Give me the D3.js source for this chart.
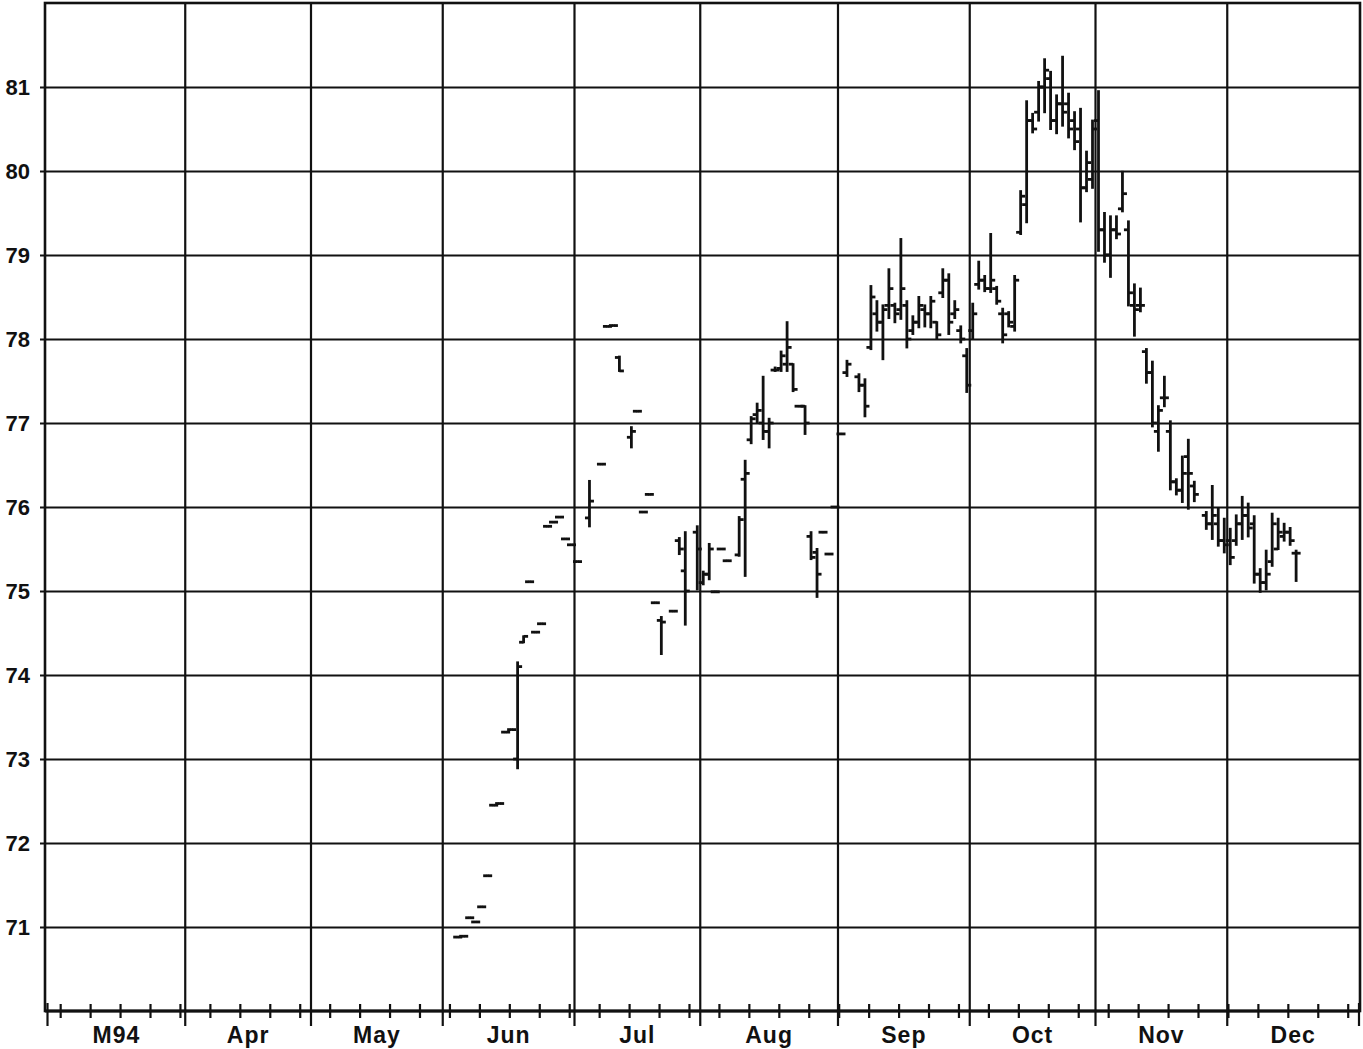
<!DOCTYPE html>
<html><head><meta charset="utf-8">
<script src="https://cdn.jsdelivr.net/npm/d3@7"></script>
<style>
body{margin:0;background:#fff}
svg{display:block}
text{font-family:"Liberation Sans",Arial,sans-serif;font-weight:bold;fill:#111}
</style>
</head><body>
<svg id="c" width="1363" height="1049"></svg>
<script>
// ---- data ----
const monthLabels = ["M94","Apr","May","Jun","Jul","Aug","Sep","Oct","Nov","Dec"];
const yTicks = [71,72,73,74,75,76,77,78,79,80,81];
// trading-day (weekday) index counted from 1994-03-01
const days = [
 68,69,70,71,72,73,74,75,76,77,78,79,80,81,82,83,84,85,86,87,
 88,90,92,93,94,95,97,98,99,100,101,102,104,105,106,108,
 109,110,111,112,113,115,116,117,118,119,120,121,122,123,124,125,126,127,128,129,130,131,
 132,133,135,136,137,138,139,140,141,142,143,144,145,146,147,148,149,150,151,152,153,
 154,155,156,157,158,159,160,161,162,163,164,165,166,167,168,169,170,171,172,173,174,
 175,176,177,178,179,180,181,182,183,184,185,186,187,188,189,190,191,193,194,195,196,
 197,198,199,200,201,202,203,204,205,206,207,208
];
const opens = [
 70.88,70.89,71.11,71.06,71.24,71.61,72.45,72.47,73.32,73.35,73.00,74.39,75.11,74.51,74.61,75.77,75.82,75.88,75.62,75.55,
 75.35,75.87,76.51,78.15,78.16,77.78,76.83,77.14,75.94,76.15,74.86,74.65,74.76,75.60,75.24,75.70,
 75.10,75.20,74.99,75.50,75.36,75.43,76.33,76.80,77.10,77.00,76.90,77.63,77.65,77.70,77.70,77.20,77.20,75.65,75.46,75.70,75.44,76.00,
 76.87,77.60,77.55,77.45,77.90,78.30,78.20,78.40,78.40,78.35,78.40,78.10,78.20,78.35,78.30,78.20,78.55,78.70,78.30,78.10,77.80,
 78.10,78.65,78.70,78.60,78.60,78.30,78.30,78.15,79.27,79.60,80.60,80.70,81.00,81.10,80.60,80.80,80.80,80.60,80.50,79.80,79.90,
 80.60,79.30,79.00,79.30,79.55,79.30,78.40,78.40,77.85,77.60,76.90,77.30,76.90,76.30,76.20,76.60,76.25,75.90,75.80,75.80,75.60,
 75.60,75.60,75.80,75.90,75.80,75.20,75.10,75.35,75.50,75.65,75.70,75.45
];
const highs = [
 70.88,70.89,71.11,71.06,71.24,71.61,72.45,72.47,73.32,73.35,74.15,74.46,75.11,74.51,74.61,75.77,75.82,75.88,75.62,75.55,
 75.35,76.31,76.51,78.15,78.16,77.79,76.95,77.14,75.94,76.15,74.86,74.69,74.76,75.63,75.70,75.77,
 75.23,75.56,74.99,75.50,75.36,75.88,76.55,77.07,77.23,77.55,77.05,77.66,77.85,78.20,77.70,77.20,77.20,75.70,75.50,75.70,75.44,76.00,
 76.87,77.74,77.58,77.52,78.63,78.45,78.40,78.83,78.42,79.19,78.45,78.27,78.50,78.40,78.50,78.20,78.83,78.77,78.45,78.15,77.88,
 78.42,78.92,78.75,79.25,78.62,78.36,78.32,78.75,79.76,80.83,80.68,81.06,81.33,81.18,80.90,81.36,80.92,80.70,80.74,80.23,80.60,
 80.95,79.50,79.46,79.46,79.99,79.40,78.65,78.60,77.88,77.73,77.20,77.55,77.02,76.33,76.60,76.80,76.30,75.94,76.25,75.98,75.86,
 75.74,75.90,76.12,76.04,75.89,75.26,75.48,75.92,75.86,75.80,75.75,75.48
];
const lows = [
 70.88,70.89,71.11,71.06,71.24,71.61,72.45,72.47,73.32,73.35,72.89,74.39,75.11,74.51,74.61,75.77,75.82,75.88,75.62,75.55,
 75.35,75.77,76.51,78.15,78.16,77.62,76.71,77.14,75.94,76.15,74.86,74.25,74.76,75.44,74.60,75.02,
 75.08,75.14,74.99,75.50,75.36,75.42,75.18,76.76,77.00,76.81,76.71,77.62,77.62,77.62,77.38,77.20,76.87,75.38,74.93,75.70,75.44,76.00,
 76.87,77.56,77.38,77.08,77.88,78.10,77.76,78.25,78.20,78.24,77.90,78.06,78.14,78.15,78.14,78.00,78.50,78.06,78.25,77.96,77.37,
 78.00,78.60,78.57,78.56,78.42,77.96,78.15,78.10,79.25,79.39,80.46,80.60,80.70,80.50,80.45,80.54,80.40,80.26,79.40,79.76,79.80,
 79.05,78.92,78.74,79.20,79.52,78.40,78.04,78.33,77.48,76.96,76.67,77.20,76.21,76.15,76.06,75.98,76.07,75.74,75.62,75.54,75.46,
 75.32,75.55,75.62,75.65,75.10,74.99,75.02,75.30,75.50,75.60,75.55,75.12
];
const closes = [
 70.88,70.89,71.11,71.06,71.24,71.61,72.45,72.47,73.32,73.35,74.10,74.46,75.11,74.51,74.61,75.77,75.82,75.88,75.62,75.55,
 75.35,76.07,76.51,78.15,78.16,77.62,76.90,77.14,75.94,76.15,74.86,74.63,74.76,75.50,75.00,75.50,
 75.20,75.50,74.99,75.50,75.36,75.85,76.40,77.05,77.15,76.90,77.00,77.63,77.80,77.90,77.40,77.20,77.00,75.40,75.20,75.70,75.44,76.00,
 76.87,77.70,77.45,77.20,78.50,78.20,78.35,78.60,78.30,78.60,78.00,78.20,78.40,78.30,78.45,78.05,78.70,78.20,78.35,78.00,77.45,
 78.30,78.70,78.60,78.70,78.45,78.05,78.20,78.70,79.70,80.60,80.50,81.00,81.20,80.60,80.80,80.70,80.50,80.35,79.80,80.10,80.50,
 79.30,79.00,79.30,79.25,79.73,78.55,78.35,78.40,77.60,77.00,77.15,77.30,76.30,76.20,76.40,76.40,76.15,75.80,75.90,75.60,75.55,
 75.40,75.80,75.90,75.75,75.20,75.10,75.20,75.80,75.70,75.70,75.60,75.45
];

// ---- calendar (weekdays) ----
const allDays = d3.timeDay.range(new Date(1994,2,1), new Date(1995,0,1))
  .filter(d => d.getDay() !== 0 && d.getDay() !== 6);
const nDays = allDays.length;
const monthStarts = [];
allDays.forEach((d,i) => { if (i === 0 || d.getMonth() !== allDays[i-1].getMonth()) monthStarts.push(i); });
monthStarts.push(nDays);
const thursdays = [];
allDays.forEach((d,i) => { if (d.getDay() === 4) thursdays.push(i); });

// ---- scales ----
const L = 45, R = 1360, T = 3, B = 1011;
const x = d3.scaleLinear().domain([0, nDays]).range([47.5, 1359]);
const y = d3.scaleLinear().domain([70, 82]).range([1011, 3]);

const svg = d3.select("#c");
const ink = "#111";

// horizontal grid + y labels (axis)
const yAxis = d3.axisLeft(y).tickValues(yTicks).tickFormat(d3.format("d"))
  .tickSizeInner(-(R - L) - 5).tickSizeOuter(0).tickPadding(10);
const gy = svg.append("g").attr("transform", `translate(${L - 5},0)`).call(yAxis);
gy.select(".domain").remove();
gy.selectAll(".tick line").attr("stroke", ink).attr("stroke-width", 2.2).attr("x1", 0);
gy.selectAll(".tick text").attr("font-size", 22).attr("font-family", '"Liberation Sans",Arial,sans-serif')
  .attr("font-weight", "bold").attr("fill", ink).attr("dy", "0.36em");

// vertical month grid lines
const inner = monthStarts.slice(1, -1);
svg.append("g").selectAll("line").data(inner).join("line")
  .attr("x1", d => x(d)).attr("x2", d => x(d)).attr("y1", T).attr("y2", B + 15)
  .attr("stroke", ink).attr("stroke-width", 2.2);

// frame
svg.append("rect").attr("x", L).attr("y", T).attr("width", R - L).attr("height", B - T)
  .attr("fill", "none").attr("stroke", ink).attr("stroke-width", 2.6);

// bottom axis: month ticks (long) and weekly ticks (minor)
svg.append("g").selectAll("line").data([monthStarts[0], monthStarts[monthStarts.length-1]]).join("line")
  .attr("x1", d => x(d)).attr("x2", d => x(d)).attr("y1", B - 8).attr("y2", B + 15)
  .attr("stroke", ink).attr("stroke-width", 2.2);
svg.append("g").selectAll("line").data(thursdays).join("line")
  .attr("x1", d => x(d + 0.2)).attr("x2", d => x(d + 0.2)).attr("y1", B - 7).attr("y2", B + 7)
  .attr("stroke", ink).attr("stroke-width", 2.2);
svg.append("line").attr("x1", L).attr("x2", R).attr("y1", B).attr("y2", B)
  .attr("stroke", ink).attr("stroke-width", 3);

// month labels
svg.append("g").selectAll("text").data(monthLabels).join("text")
  .attr("x", (d,i) => (x(monthStarts[i]) + x(monthStarts[i+1])) / 2)
  .attr("y", 1043).attr("text-anchor", "middle").attr("font-size", 23)
  .attr("letter-spacing", 1)
  .text(d => d);

// OHLC bars
const bars = days.map((d,i) => ({d, o: opens[i], h: highs[i], l: lows[i], c: closes[i]}));
const gb = svg.append("g").attr("stroke", ink).attr("stroke-width", 2.8);
bars.forEach(b => {
  const cx = x(b.d + 0.5);
  const yh = y(b.h), yl = y(b.l);
  gb.append("line").attr("x1", cx).attr("x2", cx).attr("y1", yh - 1).attr("y2", Math.max(yl, yh) + 1);
  gb.append("line").attr("x1", cx - 4.5).attr("x2", cx).attr("y1", y(b.o)).attr("y2", y(b.o));
  gb.append("line").attr("x1", cx).attr("x2", cx + 4.5).attr("y1", y(b.c)).attr("y2", y(b.c));
});
</script>
</body></html>
